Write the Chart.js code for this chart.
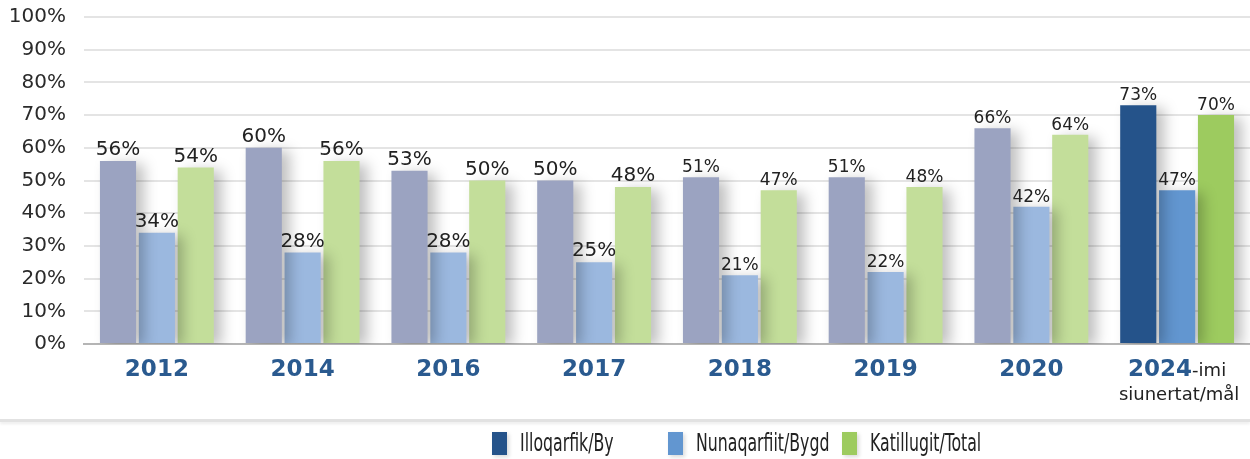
<!DOCTYPE html>
<html lang="en">
<head>
<meta charset="UTF-8">
<title>Illoqarfik / Nunaqarfiit / Katillugit</title>
<script src="https://cdn.jsdelivr.net/npm/chart.js"></script>
<style>
  body { margin: 0; background: #fff; }
  #wrap { position: relative; width: 1250px; height: 459px; }
  #box { position: absolute; left: 0; top: 0; width: 1250px; height: 420px; }
  #rule { position: absolute; left: 0; top: 419px; width: 1250px; height: 3px; background: #e2e2e2; box-shadow: 0 2px 3px rgba(0,0,0,0.08); }
  .leg { position: absolute; top: 432px; height: 24px; font-family: 'DejaVu Sans Condensed', 'DejaVu Sans', sans-serif; font-size: 25px; color: #222; line-height: 24px; }
  .leg span { position: absolute; left: 0; top: 0; width: 15px; height: 23px; box-shadow: 2px 2px 4px rgba(0,0,0,0.15); }
  .leg b { font-weight: normal; position: absolute; left: 28px; top: -1px; white-space: nowrap; transform: scaleX(0.7); transform-origin: left center; }
</style>
</head>
<body>
<div id="wrap">
  <div id="box"><canvas id="chart"></canvas></div>
  <div id="rule"></div>
  <div id="legend"></div>
</div>

<script>
  // data
  const years = ['2012', '2014', '2016', '2017', '2018', '2019', '2020', '2024'];
  const yearSuffix = ['', '', '', '', '', '', '', '-imi'];
  const yearSecondLine = ['', '', '', '', '', '', '', 'siunertat/mål'];
  const seriesNames = ['Illoqarfik/By', 'Nunaqarfiit/Bygd', 'Katillugit/Total'];
  const byValues = [56, 60, 53, 50, 51, 51, 66, 73];
  const bygdValues = [34, 28, 28, 25, 21, 22, 42, 47];
  const totalValues = [54, 56, 50, 48, 47, 48, 64, 70];

  // colours: faded for the measured years, strong for the 2024 target
  const fadedColors = ['#9ba3c1', '#9bb8df', '#c3de9a'];
  const strongColors = ['#25538a', '#6296d0', '#9dcb5f'];
  const labelSizes = [20, 20, 20, 20, 17, 17, 17, 17];

  function colorsFor(i) {
    return years.map((y, k) => k === years.length - 1 ? strongColors[i] : fadedColors[i]);
  }

  const barShadow = {
    id: 'barShadow',
    beforeDatasetDraw(chart) {
      const ctx = chart.ctx;
      ctx.save();
      ctx.shadowColor = 'rgba(0,0,0,0.25)';
      ctx.shadowBlur = 14;
      ctx.shadowOffsetX = 8;
      ctx.shadowOffsetY = 3;
    },
    afterDatasetDraw(chart) {
      chart.ctx.restore();
    }
  };

  const valueLabels = {
    id: 'valueLabels',
    afterDatasetsDraw(chart) {
      const ctx = chart.ctx;
      ctx.save();
      ctx.fillStyle = '#222';
      ctx.textAlign = 'center';
      ctx.textBaseline = 'bottom';
      chart.data.datasets.forEach((ds, i) => {
        chart.getDatasetMeta(i).data.forEach((bar, k) => {
          ctx.font = labelSizes[k] + 'px "DejaVu Sans"';
          ctx.fillText(ds.data[k] + '%', bar.x, bar.y - 1);
        });
      });

      // category labels under the axis
      const xs = chart.scales.x;
      years.forEach((y, k) => {
        const cx = xs.getPixelForValue(k);
        ctx.textBaseline = 'alphabetic';
        ctx.font = 'bold 23px "DejaVu Sans"';
        const w1 = ctx.measureText(y).width;
        ctx.font = '18px "DejaVu Sans"';
        const w2 = yearSuffix[k] ? ctx.measureText(yearSuffix[k]).width : 0;
        const left = cx - (w1 + w2) / 2;
        ctx.textAlign = 'left';
        ctx.fillStyle = '#2a5a8f';
        ctx.font = 'bold 23px "DejaVu Sans"';
        ctx.fillText(y, left, 376);
        if (yearSuffix[k]) {
          ctx.fillStyle = '#222';
          ctx.font = '18px "DejaVu Sans"';
          ctx.fillText(yearSuffix[k], left + w1, 376);
        }
        if (yearSecondLine[k]) {
          ctx.fillStyle = '#222';
          ctx.textAlign = 'center';
          ctx.font = '18px "DejaVu Sans"';
          ctx.fillText(yearSecondLine[k], cx + 2, 400);
        }
      });
      ctx.restore();
    }
  };

  new Chart(document.getElementById('chart'), {
    type: 'bar',
    data: {
      labels: years,
      datasets: [
        { label: seriesNames[0], data: byValues, backgroundColor: colorsFor(0) },
        { label: seriesNames[1], data: bygdValues, backgroundColor: colorsFor(1) },
        { label: seriesNames[2], data: totalValues, backgroundColor: colorsFor(2) }
      ]
    },
    options: {
      responsive: true,
      maintainAspectRatio: false,
      animation: false,
      layout: { padding: { top: 17, right: 0, left: 0, bottom: 0 } },
      datasets: { bar: { categoryPercentage: 0.8, barPercentage: 0.93 } },
      plugins: { legend: { display: false }, tooltip: { enabled: false } },
      scales: {
        x: {
          grid: { display: false },
          border: { color: '#b5b5b5', width: 2 },
          ticks: { display: false },
          afterFit(scale) { scale.height = 76; }
        },
        y: {
          min: 0,
          max: 100,
          ticks: {
            stepSize: 10,
            color: '#2a2a2a',
            padding: 18,
            font: { family: 'DejaVu Sans', size: 20 },
            callback: v => v + '%'
          },
          grid: { color: '#e4e4e4', lineWidth: 2, drawTicks: false },
          border: { display: false },
          afterFit(scale) {
            scale.width = 84;
            scale.paddingTop = 0;
            scale.paddingBottom = 0;
          }
        }
      }
    },
    plugins: [barShadow, valueLabels]
  });

  // legend below the rule
  const legendLeft = [492, 668, 842];
  const legendEl = document.getElementById('legend');
  seriesNames.forEach((name, i) => {
    const d = document.createElement('div');
    d.className = 'leg';
    d.style.left = legendLeft[i] + 'px';
    d.innerHTML = '<span style="background:' + strongColors[i] + '"></span><b>' + name + '</b>';
    legendEl.appendChild(d);
  });
</script>
</body>
</html>
